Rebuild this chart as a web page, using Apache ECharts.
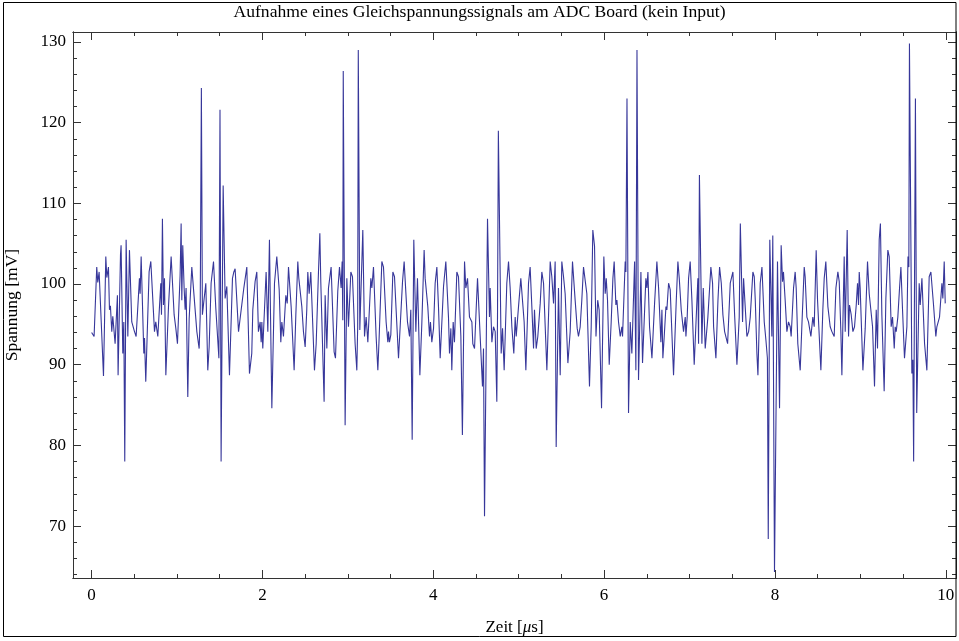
<!DOCTYPE html>
<html>
<head>
<meta charset="utf-8">
<script src="https://cdn.jsdelivr.net/npm/echarts@6/dist/echarts.min.js"></script>
<style>html,body{margin:0;padding:0;background:#fff}#c{width:959px;height:641px}</style>
</head>
<body>
<div id="c"></div>
<script>
const times = [
0.0,0.029,0.06,0.072,0.088,0.139,0.166,0.178,0.197,0.209,0.22,0.236,0.248,0.275,0.302,0.31,0.338,0.345,0.365,0.377,0.388,0.404,0.424,0.443,0.47,0.502,0.521,0.56,0.568,0.58,0.611,0.619,0.634,0.673,0.693,0.736,0.751,0.775,0.81,0.818,0.829,0.841,0.853,0.869,0.9,0.931,0.966,0.986,1.005,1.036,1.048,1.056,1.067,1.083,1.095,1.106,1.126,1.142,1.173,1.193,1.232,1.259,1.271,1.285,1.297,1.337,1.36,1.376,1.399,1.427,1.454,1.49,1.503,1.516,1.54,1.563,1.583,1.614,1.649,1.665,1.68,1.72,1.743,1.782,1.817,1.848,1.875,1.887,1.914,1.934,1.953,
1.973,1.985,1.993,2.004,2.043,2.063,2.082,2.11,2.141,2.168,2.196,2.215,2.227,2.246,2.274,2.29,2.305,2.336,2.371,2.391,2.414,2.426,2.461,2.48,2.5,2.519,2.531,2.547,2.566,2.609,2.629,2.656,2.672,2.683,2.722,2.734,2.754,2.773,2.804,2.839,2.855,2.882,2.902,2.921,2.933,2.941,2.946,2.968,2.988,3.007,3.035,3.054,3.085,3.105,3.115,3.122,3.14,3.175,3.195,3.214,3.234,3.269,3.281,3.3,3.331,3.351,3.366,3.398,3.417,3.448,3.468,3.476,3.487,3.503,3.527,3.546,3.593,3.64,3.659,3.698,3.722,3.737,3.753,3.772,3.796,3.815,3.843,3.866,3.893,3.905,3.92,3.936,3.956,
3.967,3.983,4.003,4.022,4.042,4.061,4.081,4.1,4.12,4.147,4.178,4.19,4.206,4.217,4.233,4.248,4.276,4.295,4.323,4.341,4.366,4.381,4.401,4.424,4.452,4.463,4.483,4.502,4.518,4.541,4.576,4.588,4.6,4.635,4.658,4.666,4.686,4.705,4.725,4.744,4.752,4.762,4.795,4.811,4.83,4.861,4.881,4.9,4.92,4.943,4.959,4.971,4.998,5.025,5.041,5.064,5.084,5.115,5.134,5.154,5.174,5.185,5.205,5.224,5.252,5.271,5.291,5.33,5.369,5.388,5.408,5.427,5.439,5.466,5.486,5.505,5.525,5.544,5.576,5.603,5.63,5.661,5.685,5.7,5.72,5.739,5.759,5.798,5.829,5.849,5.868,5.888,5.905,5.925,5.942,
5.97,5.997,6.013,6.025,6.04,6.06,6.083,6.103,6.118,6.138,6.15,6.169,6.189,6.208,6.216,6.247,6.255,6.268,6.286,6.306,6.325,6.357,6.372,6.385,6.403,6.431,6.45,6.489,6.501,6.513,6.532,6.56,6.591,6.618,6.638,6.665,6.677,6.688,6.704,6.724,6.735,6.755,6.774,6.813,6.845,6.864,6.88,6.903,6.93,6.95,6.958,6.973,6.989,7.008,7.028,7.055,7.087,7.098,7.106,7.116,7.145,7.161,7.184,7.215,7.25,7.27,7.282,7.309,7.333,7.352,7.372,7.391,7.411,7.43,7.446,7.477,7.497,7.508,7.528,7.555,7.582,7.595,7.621,7.633,7.672,7.692,7.711,7.742,7.758,7.77,7.789,7.801,7.828,7.848,7.875,7.895,7.912,7.922,7.94,7.964,7.975,7.995,8.03,8.054,8.073,
8.089,8.1,8.12,8.14,8.159,8.179,8.19,8.218,8.237,8.249,8.268,8.296,8.315,8.343,8.354,8.374,8.393,8.421,8.444,8.46,8.483,8.499,8.538,8.561,8.577,8.596,8.62,8.647,8.667,8.694,8.714,8.737,8.753,8.772,8.784,8.796,8.811,8.823,8.846,8.862,8.873,8.893,8.913,8.932,8.952,8.967,8.979,8.987,8.998,9.03,9.057,9.084,9.104,9.123,9.143,9.166,9.186,9.201,9.221,9.235,9.252,9.279,9.299,9.322,9.338,9.361,9.377,9.397,9.408,9.42,9.439,9.459,9.475,9.494,9.517,9.545,9.558,9.568,9.575,9.603,9.615,9.624,9.645,9.66,9.689,9.701,9.721,9.752,9.779,9.806,9.826,9.857,9.884,9.896,9.908,9.927,9.955,9.966,9.982,9.994
];
const values = [
94.0,93.5,102.1,100.2,101.5,88.6,103.4,100.8,102.1,96.8,97.3,94.1,96.0,92.6,98.6,88.7,103.6,104.8,91.4,95.3,78.0,105.5,93.5,104.2,95.3,94.1,93.5,100.7,98.8,103.4,91.4,93.3,87.9,101.5,102.8,94.1,95.3,93.5,100.1,96.2,108.1,97.4,100.7,88.7,97.2,103.4,96.2,94.5,92.6,101.1,107.5,98.0,104.8,99.5,96.8,99.5,86.0,95.7,102.1,102.1,94.1,92.0,95.9,124.3,96.2,100.1,89.3,92.2,100.1,102.8,97.0,90.8,121.6,78.0,112.2,98.2,99.7,88.7,100.7,101.5,101.9,94.1,93.9,99.5,102.1,88.9,91.4,96.8,100.3,101.5,94.1,
95.3,92.8,95.3,92.0,101.5,94.1,105.5,84.6,100.1,103.4,99.3,92.8,95.3,93.5,98.6,97.6,102.1,97.2,89.3,96.2,102.8,100.7,97.2,94.1,92.2,96.8,101.5,98.8,101.5,89.3,92.6,101.5,106.3,100.3,85.4,98.6,92.0,99.5,102.1,91.6,90.8,99.1,102.1,99.5,102.8,95.5,126.4,82.5,100.7,94.7,101.5,100.9,92.6,89.3,94.7,129.0,94.3,106.7,93.5,95.9,92.8,100.7,99.5,102.1,93.5,89.3,93.3,102.8,102.1,95.3,92.8,94.1,92.8,93.7,101.5,100.9,90.8,100.3,102.8,95.3,93.5,96.8,80.7,105.5,94.1,100.7,88.7,95.1,104.2,100.7,100.7,97.2,93.5,
95.3,92.8,94.5,100.1,102.1,97.2,90.8,90.8,99.7,102.8,95.9,91.4,94.5,89.3,95.3,92.8,101.5,100.9,93.5,81.3,102.8,99.5,100.7,95.9,95.3,92.6,92.0,96.8,100.7,100.7,87.3,92.0,71.2,108.1,95.9,99.5,92.8,94.7,94.1,85.4,95.9,119.0,91.4,94.5,89.3,100.1,102.8,99.5,94.7,91.4,95.9,93.5,97.2,100.7,100.7,95.3,89.3,100.1,102.1,97.2,92.0,96.8,92.0,93.5,97.6,101.5,100.1,89.3,102.8,100.9,97.6,102.8,79.8,99.5,88.7,102.8,100.9,98.8,90.2,94.1,102.8,98.0,94.5,93.5,94.7,98.0,102.1,98.8,87.3,94.7,106.7,104.7,93.5,98.0,96.8,
84.6,103.4,98.8,100.7,98.0,90.0,95.3,100.7,102.8,97.4,98.0,95.3,93.5,94.7,93.5,102.8,101.5,123.0,84.0,95.3,91.4,102.8,89.3,129.0,88.1,101.5,90.2,100.7,99.5,101.5,94.7,90.8,97.6,102.8,99.5,92.8,96.8,90.8,93.5,97.2,96.8,100.1,99.3,88.7,98.0,102.8,100.7,96.8,94.1,95.9,93.5,95.9,100.7,102.8,98.0,90.0,98.0,100.7,92.6,113.5,92.6,99.5,92.0,95.9,102.1,100.1,94.7,90.8,98.0,102.1,100.1,96.2,94.1,93.9,92.6,100.1,100.1,101.5,96.2,90.0,95.9,107.5,95.3,100.7,93.5,94.1,95.9,101.5,100.9,98.0,91.4,88.7,100.1,102.1,95.3,93.0,90.8,68.4,105.5,93.5,106.0,64.3,102.8,84.6,104.8,
100.3,101.5,98.0,94.1,95.3,94.7,93.5,99.5,101.5,99.5,92.6,89.3,94.7,102.1,100.9,95.9,95.3,93.5,95.9,94.7,104.2,98.0,89.3,96.8,100.7,102.8,97.2,94.7,94.1,93.5,99.5,101.5,100.3,94.1,88.7,95.3,103.4,94.1,106.7,93.5,97.4,96.2,94.1,94.7,97.4,100.1,97.4,101.5,99.5,89.3,94.5,102.8,98.8,98.6,94.7,87.3,96.8,92.0,105.5,107.5,96.2,86.7,98.2,104.2,103.4,94.7,95.9,92.0,94.7,94.1,95.9,99.5,102.1,96.8,90.8,94.7,103.4,102.1,129.8,88.9,90.6,78.0,123.0,84.0,100.1,97.4,100.7,92.6,89.3,100.9,101.5,97.4,93.5,94.7,94.5,95.9,100.1,98.2,102.8,97.6
];
const xMajorTicks = [0, 2, 4, 6, 8, 10];
const xMinorTicks = [0.5, 1, 1.5, 2.5, 3, 3.5, 4.5, 5, 5.5, 6.5, 7, 7.5, 8.5, 9, 9.5];
const yMajorTicks = [70, 80, 90, 100, 110, 120, 130];
const yMinorTicks = [64, 66, 68, 72, 74, 76, 78, 82, 84, 86, 88, 92, 94, 96, 98, 102, 104, 106, 108, 112, 114, 116, 118, 122, 124, 126, 128];

const FONT = 'Liberation Serif';
const FRAME = '#333';
const XMIN = -0.218, XMAX = 10.12, YMIN = 63.56, YMAX = 131.24;

const data = times.map((t, i) => [t, values[i]]);

function xAx(pos, ticks, len, labels, extra) {
  return Object.assign({
    type: 'value', position: pos, min: XMIN, max: XMAX,
    axisLine: { show: true, onZero: false, lineStyle: { color: FRAME, width: 1 } },
    axisTick: { show: true, inside: true, length: len, customValues: ticks, lineStyle: { color: FRAME, width: 1 } },
    axisLabel: labels ? { show: true, customValues: ticks, fontFamily: FONT, fontSize: 17, color: '#000', margin: 9 } : { show: false },
    splitLine: { show: false }
  }, extra || {});
}
function yAx(pos, ticks, len, labels, extra) {
  return Object.assign({
    type: 'value', position: pos, min: YMIN, max: YMAX,
    axisLine: { show: true, onZero: false, lineStyle: { color: FRAME, width: 1 } },
    axisTick: { show: true, inside: true, length: len, customValues: ticks, lineStyle: { color: FRAME, width: 1 } },
    axisLabel: labels ? { show: true, customValues: ticks, fontFamily: FONT, fontSize: 17, color: '#000', margin: 7 } : { show: false },
    splitLine: { show: false }
  }, extra || {});
}

const chart = echarts.init(document.getElementById('c'), null, { renderer: 'canvas' });
chart.setOption({
  animation: false,
  backgroundColor: '#fff',
  title: {
    text: 'Aufnahme eines Gleichspannungssignals am ADC Board (kein Input)',
    left: 'center', top: 0, padding: [3, 5],
    textStyle: { fontFamily: FONT, fontSize: 17.6, fontWeight: 'normal', color: '#000' }
  },
  grid: { left: 73, right: 3, top: 32, bottom: 63, containLabel: false, outerBoundsMode: 'none' },
  graphic: [{
    type: 'rect', shape: { x: 3.5, y: 2.5, width: 952.5, height: 634 },
    style: { fill: 'none', stroke: '#000', lineWidth: 1 }, silent: true, z: 100
  }],
  xAxis: [
    xAx('bottom', xMajorTicks, 8, true, {
      name: 'Zeit [{i|μ}s]', nameLocation: 'middle', nameGap: 41,
      nameTextStyle: { fontFamily: FONT, fontSize: 17, color: '#000', rich: { i: { fontFamily: FONT, fontSize: 17, fontStyle: 'italic', color: '#000' } } }
    }),
    xAx('bottom', xMinorTicks, 4, false),
    xAx('top', xMajorTicks, 8, false),
    xAx('top', xMinorTicks, 4, false)
  ],
  yAxis: [
    yAx('left', yMajorTicks, 8, true, {
      name: 'Spannung [mV]', nameLocation: 'middle', nameGap: 52, nameRotate: 90,
      nameTextStyle: { fontFamily: FONT, fontSize: 17.5, color: '#000' }
    }),
    yAx('left', yMinorTicks, 4, false),
    yAx('right', yMajorTicks, 8, false),
    yAx('right', yMinorTicks, 4, false)
  ],
  series: [{
    type: 'line', xAxisIndex: 0, yAxisIndex: 0, data: data,
    showSymbol: false, symbol: 'none',
    lineStyle: { color: '#37379a', width: 1.1 },
    silent: true
  }]
});
</script>
</body>
</html>
